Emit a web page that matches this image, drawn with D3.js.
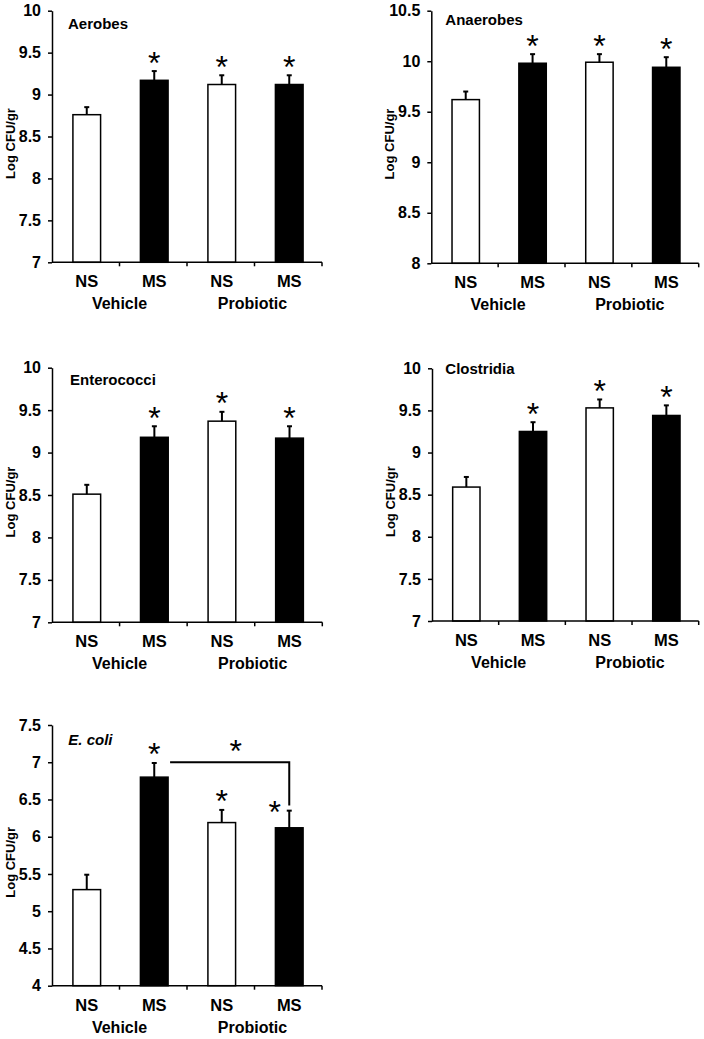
<!DOCTYPE html>
<html>
<head>
<meta charset="utf-8">
<script src="https://cdn.jsdelivr.net/npm/d3@7"></script>
<style>
  html, body { margin: 0; padding: 0; background: #fff; }
  svg { display: block; }
  text { font-family: "Liberation Sans", Arial, sans-serif; fill: #000; }
</style>
</head>
<body>
<svg id="chart" width="704" height="1039"></svg>
<script>
// ---------- DATA ----------
const groups = ["NS", "MS", "NS", "MS"];
const treatments = ["Vehicle", "Probiotic"];
const panelTitles = ["Aerobes", "Anaerobes", "Enterococci", "Clostridia", "E. coli"];
const yAxisTitle = "Log CFU/gr";

const aerobesMean     = [8.76, 9.17, 9.12, 9.12];
const aerobesSem      = [0.09, 0.11, 0.11, 0.11];
const anaerobesMean   = [9.62, 9.98, 9.99, 9.94];
const anaerobesSem    = [0.08, 0.09, 0.08, 0.10];
const enterococciMean = [8.51, 9.18, 9.37, 9.17];
const enterococciSem  = [0.11, 0.13, 0.11, 0.14];
const clostridiaMean  = [8.59, 9.25, 9.53, 9.44];
const clostridiaSem   = [0.12, 0.11, 0.10, 0.12];
const ecoliMean       = [5.29, 6.80, 6.19, 6.12];
const ecoliSem        = [0.20, 0.19, 0.17, 0.23];

const aerobesDomain     = [7, 10];
const anaerobesDomain   = [8, 10.5];
const enterococciDomain = [7, 10];
const clostridiaDomain  = [7, 10];
const ecoliDomain       = [4, 7.5];

const significant = [false, true, true, true];
// E. coli: vehicle MS vs probiotic MS bracket (from bar 1 to bar 3)
const ecoliBracket = { from: 1, to: 3, level: 7.0, endLevel: 6.42 };

// ---------- LAYOUT ----------
const panels = [
  { title: panelTitles[0], mean: aerobesMean, sem: aerobesSem, domain: aerobesDomain,
    x0: 52, x1: 322, top: 10.7, bottom: 262.3, tdx: 16, tby: 29, italic: false },
  { title: panelTitles[1], mean: anaerobesMean, sem: anaerobesSem, domain: anaerobesDomain,
    x0: 431.3, x1: 698.7, top: 10.7, bottom: 263.3, tdx: 14, tby: 25, italic: false },
  { title: panelTitles[2], mean: enterococciMean, sem: enterococciSem, domain: enterococciDomain,
    x0: 52, x1: 322.3, top: 367.7, bottom: 622.3, tdx: 18, tby: 385, italic: false },
  { title: panelTitles[3], mean: clostridiaMean, sem: clostridiaSem, domain: clostridiaDomain,
    x0: 432, x1: 698.7, top: 368.3, bottom: 621, tdx: 13.3, tby: 374.3, italic: false },
  { title: panelTitles[4], mean: ecoliMean, sem: ecoliSem, domain: ecoliDomain,
    x0: 52, x1: 322, top: 725, bottom: 985.7, tdx: 16.3, tby: 745, italic: true, bracket: ecoliBracket }
];

const svg = d3.select("#chart");
const fills = ["#fff", "#000", "#fff", "#000"];

panels.forEach(p => {
  const g = svg.append("g");
  const x = d3.scaleBand().domain(d3.range(groups.length)).range([p.x0, p.x1]).paddingInner(0).paddingOuter(0);
  const y = d3.scaleLinear().domain(p.domain).range([p.bottom, p.top]);
  const bw = x.bandwidth() * 0.41;
  const cx = i => x(i) + x.bandwidth() / 2 + 1;

  // bars
  g.selectAll("rect.bar").data(p.mean).enter().append("rect")
    .attr("x", (d, i) => cx(i) - bw / 2)
    .attr("y", d => y(d))
    .attr("width", bw)
    .attr("height", d => y(p.domain[0]) - y(d))
    .attr("fill", (d, i) => fills[i])
    .attr("stroke", "#000").attr("stroke-width", 1.5);

  // error bars (upper only)
  p.mean.forEach((m, i) => {
    const yt = y(m + p.sem[i]);
    g.append("line").attr("x1", cx(i)).attr("x2", cx(i)).attr("y1", y(m)).attr("y2", yt)
      .attr("stroke", "#000").attr("stroke-width", 2);
    g.append("line").attr("x1", cx(i) - 2.5).attr("x2", cx(i) + 2.5).attr("y1", yt).attr("y2", yt)
      .attr("stroke", "#000").attr("stroke-width", 2);
  });

  // significance stars
  p.mean.forEach((m, i) => {
    if (!significant[i]) return;
    const yt = y(m + p.sem[i]);
    let sx = cx(i), sy = yt - 13.5;
    if (p.bracket && i === p.bracket.to) { sx = cx(i) - 14.5; sy = yt - 4; }
    g.append("text").attr("x", sx).attr("y", sy + 16)
      .attr("text-anchor", "middle").style("font-size", "32px").text("*");
  });

  // bracket
  if (p.bracket) {
    const b = p.bracket;
    const xs = cx(b.from) + bw / 2 + 2;
    const xe = cx(b.to);
    const yl = y(b.level);
    g.append("path")
      .attr("d", `M${xs},${yl}H${xe}V${y(b.endLevel)}`)
      .attr("fill", "none").attr("stroke", "#000").attr("stroke-width", 2);
    g.append("text").attr("x", (xs + xe) / 2 + 6).attr("y", yl - 16 + 16)
      .attr("text-anchor", "middle").style("font-size", "32px").text("*");
  }

  // y axis
  const ticks = d3.range(p.domain[0], p.domain[1] + 0.001, 0.5);
  const yAxis = d3.axisLeft(y).tickValues(ticks).tickSize(4).tickSizeOuter(0).tickPadding(7)
    .tickFormat(d3.format(""));
  const ya = g.append("g").attr("transform", `translate(${p.x0},0)`).call(yAxis);
  ya.select(".domain").attr("stroke-width", 1.5);
  ya.selectAll(".tick line").attr("stroke-width", 1.5);
  ya.selectAll(".tick text").style("font-size", "16px").style("font-weight", "bold")
    .attr("font-family", null);

  // x axis line with ticks at band boundaries
  g.append("line").attr("x1", p.x0).attr("x2", p.x1).attr("y1", p.bottom).attr("y2", p.bottom)
    .attr("stroke", "#000").attr("stroke-width", 1.5);
  d3.range(1, groups.length + 1).forEach(i => {
    const xb = p.x0 + x.bandwidth() * i;
    g.append("line").attr("x1", xb).attr("x2", xb).attr("y1", p.bottom).attr("y2", p.bottom + 4)
      .attr("stroke", "#000").attr("stroke-width", 1.5);
  });

  // group labels
  groups.forEach((lab, i) => {
    g.append("text").attr("x", cx(i)).attr("y", p.bottom + 25)
      .attr("text-anchor", "middle").style("font-size", "16.5px").style("font-weight", "bold").text(lab);
  });
  treatments.forEach((lab, k) => {
    const xc = p.x0 + x.bandwidth() * (2 * k + 1) - (k === 1 ? 2 : 0);
    g.append("text").attr("x", xc).attr("y", p.bottom + 47)
      .attr("text-anchor", "middle").style("font-size", "16px").style("font-weight", "bold").text(lab);
  });

  // title
  g.append("text").attr("x", p.x0 + p.tdx).attr("y", p.tby)
    .style("font-size", "15px").style("font-weight", "bold")
    .style("font-style", p.italic ? "italic" : "normal").text(p.title);

  // y title
  const yc = (p.top + p.bottom) / 2 + 7;
  g.append("text").attr("transform", `translate(${p.x0 - 37.5},${yc}) rotate(-90)`)
    .attr("text-anchor", "middle").style("font-size", "13px").style("font-weight", "bold")
    .text(yAxisTitle);
});
</script>
</body>
</html>
